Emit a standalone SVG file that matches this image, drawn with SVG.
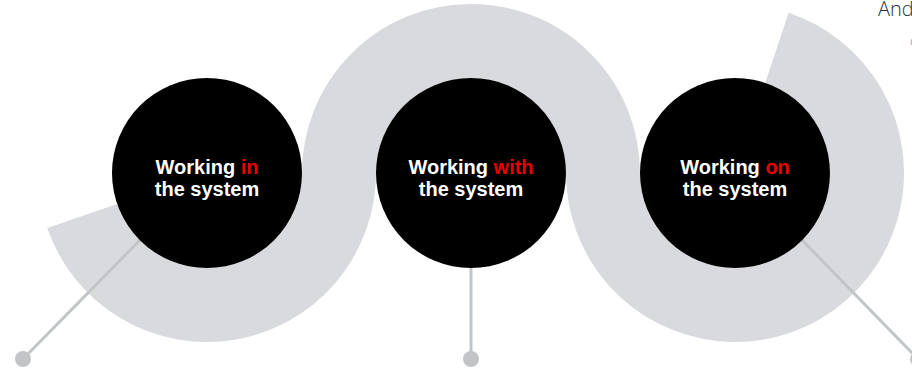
<svg xmlns="http://www.w3.org/2000/svg" width="912" height="368" viewBox="0 0 912 368">
  <style>
    .band { fill: none; stroke: #d8dadd; stroke-width: 74; stroke-linecap: butt; }
    .conn { stroke: #c2c5c8; stroke-width: 3; fill: none; }
    .dot { fill: #c2c5c8; }
    .disc { fill: #000000; }
    .lbl { font-family: "Liberation Sans", Arial, sans-serif; font-weight: bold; font-size: 20px; fill: #ffffff; text-anchor: middle; }
    .hi { fill: #e60000; }
    .side { font-family: "Open Sans", "Liberation Sans", sans-serif; font-weight: 300; font-size: 20px; fill: #333333; }
  </style>
  <rect width="912" height="368" fill="#ffffff"/>
  <path id="band" class="band" d="M 82.2 216 A 132 132 0 0 0 339 173 A 132 132 0 0 1 603 173 A 132 132 0 1 0 776.9 47.8"/>
  <g id="connectors">
    <line class="conn" x1="140" y1="240" x2="23" y2="359"/>
    <circle class="dot" cx="23" cy="359" r="8"/>
    <line class="conn" x1="471" y1="268" x2="471" y2="359"/>
    <circle class="dot" cx="471" cy="359" r="8"/>
    <line class="conn" x1="802" y1="240" x2="918" y2="359"/>
    <circle class="dot" cx="918" cy="359" r="8"/>
  </g>
  <g id="node-in">
    <circle class="disc" cx="207" cy="173" r="95"/>
    <text class="lbl" x="207" y="174">Working <tspan class="hi">in</tspan></text>
    <text class="lbl" x="207" y="196">the system</text>
  </g>
  <g id="node-with">
    <circle class="disc" cx="471" cy="173" r="95"/>
    <text class="lbl" x="471" y="174">Working <tspan class="hi">with</tspan></text>
    <text class="lbl" x="471" y="196">the system</text>
  </g>
  <g id="node-on">
    <circle class="disc" cx="735" cy="173" r="95"/>
    <text class="lbl" x="735" y="174">Working <tspan class="hi">on</tspan></text>
    <text class="lbl" x="735" y="196">the system</text>
  </g>
  <g id="side-text">
    <text class="side" x="878" y="16">And</text>
    <text class="side" x="910" y="46" style="font-size:14px;fill:#888888">c</text>
  </g>
</svg>
